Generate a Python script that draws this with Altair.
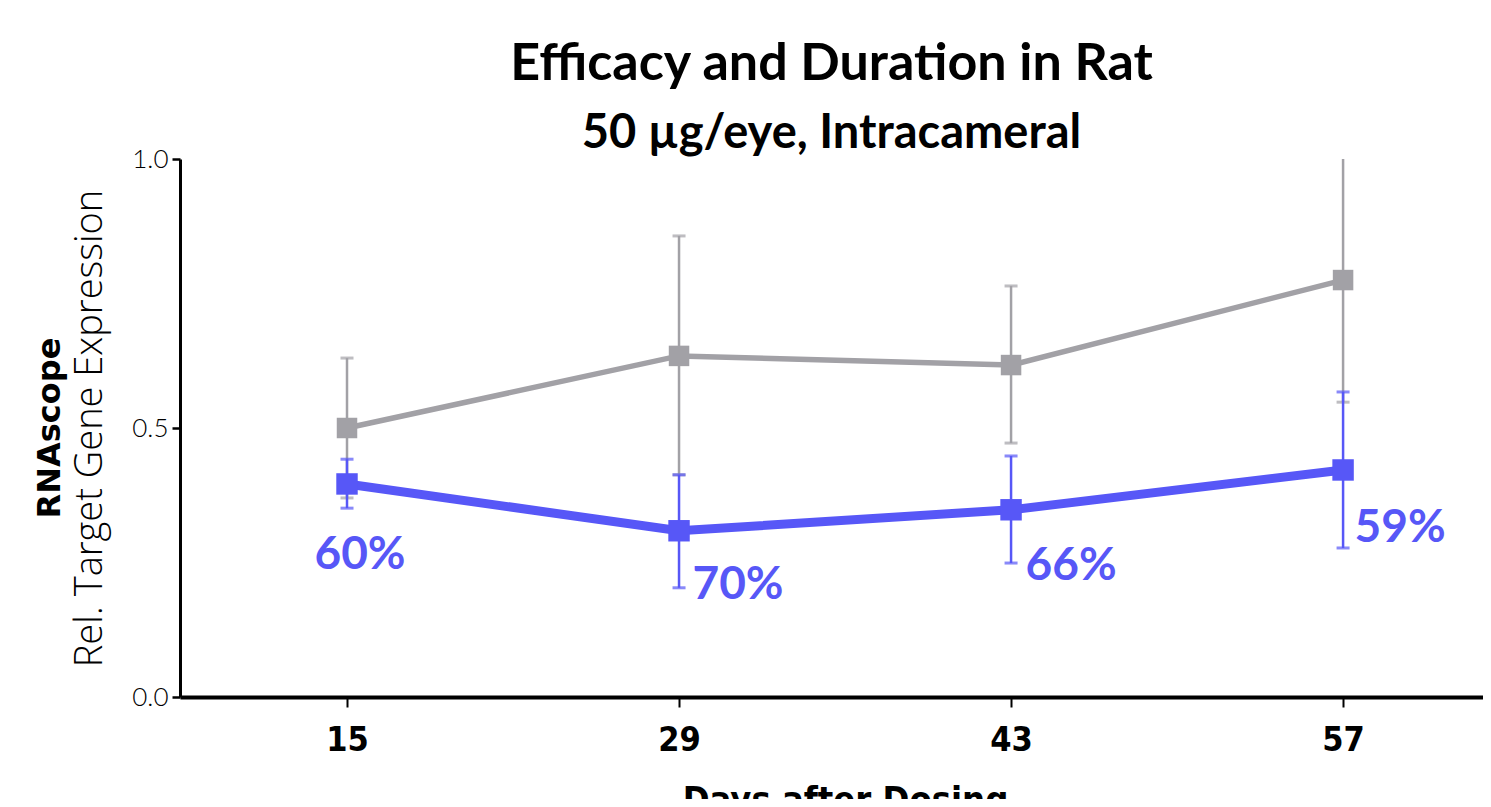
import altair as alt
import pandas as pd

days = [15, 29, 43, 57]
ctrl_mean = [0.500, 0.634, 0.617, 0.775]
ctrl_upper = [0.630, 0.857, 0.764, 1.030]
ctrl_lower = [0.370, 0.413, 0.472, 0.548]
trt_mean = [0.396, 0.309, 0.348, 0.422]
trt_upper = [0.442, 0.413, 0.448, 0.567]
trt_lower = [0.351, 0.203, 0.249, 0.277]
knockdown = ["60%", "70%", "66%", "59%"]

GRAY = "#A2A1A6"
BLUE = "#5757F7"
COND = "'DejaVu Sans Condensed', 'Liberation Sans Narrow', Lato"

ctrl = pd.DataFrame({"day": days, "mean": ctrl_mean, "lo": ctrl_lower, "hi": ctrl_upper})
trt = pd.DataFrame({"day": days, "mean": trt_mean, "lo": trt_lower, "hi": trt_upper})

x_enc = alt.X(
    "day:Q",
    scale=alt.Scale(domain=[7.958, 62.90], nice=False, zero=False),
    axis=alt.Axis(
        values=days, format="d", grid=False,
        domainColor="black", domainWidth=4, tickColor="black", tickWidth=2, tickSize=10,
        labelFont=COND, labelFontWeight="bold", labelFontSize=34,
        labelColor="black", labelPadding=16,
        title="Days after Dosing", titleFont=COND, titleFontWeight="bold",
        titleFontSize=36, titleColor="black", titleX=665, titleY=86, titleBaseline="top",
        titleAlign="center",
    ),
)


def y_enc(field):
    return alt.Y(
        f"{field}:Q",
        scale=alt.Scale(domain=[0, 1], nice=False),
        axis=alt.Axis(
            values=[0, 0.5, 1.0], format=".1f", grid=False,
            domainColor="black", domainWidth=3, tickColor="black", tickWidth=2.5, tickSize=8,
            labelFont="Lato", labelFontWeight=300, labelFontSize=26, labelColor="black",
            labelPadding=4,
            title="Rel. Target Gene Expression", titleFont="Open Sans", titleFontWeight=300,
            titleFontSize=38, titleColor="black", titleX=-90, titleY=269, titleAngle=270,
            titleAlign="center", titleBaseline="middle",
        ),
    )


def series(df, color, lw, sq):
    err = alt.Chart(df).mark_rule(color=color, strokeWidth=2.5, clip=True).encode(
        x=x_enc, y=y_enc("lo"), y2="hi:Q"
    )
    cap_hi = alt.Chart(df).mark_tick(color=color, orient="horizontal", size=13, thickness=3, clip=True).encode(
        x=x_enc, y=y_enc("hi")
    )
    cap_lo = alt.Chart(df).mark_tick(color=color, orient="horizontal", size=13, thickness=3, clip=True).encode(
        x=x_enc, y=y_enc("lo")
    )
    line = alt.Chart(df).mark_line(color=color, strokeWidth=lw).encode(x=x_enc, y=y_enc("mean"))
    pts = alt.Chart(df).mark_point(shape="square", filled=True, opacity=1, color=color, size=sq).encode(
        x=x_enc, y=y_enc("mean")
    )
    return [err, cap_hi, cap_lo, line, pts]


layers = series(ctrl, GRAY, 5.5, 420) + series(trt, BLUE, 9, 460)

offsets = [(13, 71), (59, 54), (60, 56), (57, 58)]
for i, (dx, dy) in enumerate(offsets):
    lab = pd.DataFrame({"day": [days[i]], "mean": [trt_mean[i]], "t": [knockdown[i]]})
    layers.append(
        alt.Chart(lab).mark_text(
            font="Lato", fontWeight="bold", fontSize=46, color=BLUE, dx=dx, dy=dy,
            align="center", baseline="middle",
        ).encode(x=x_enc, y=y_enc("mean"), text="t:N")
    )

rna = alt.Chart(pd.DataFrame({"t": ["RNAscope"]})).mark_text(
    font="DejaVu Sans", fontWeight="bold", fontSize=32, color="black", angle=270,
    align="center", baseline="middle",
).encode(text="t:N", x=alt.value(-130), y=alt.value(269))
layers.append(rna)

chart = alt.layer(*layers).properties(
    width=1303,
    height=538,
    autosize="none",
    padding={"left": 172, "top": 151, "right": 0, "bottom": 102},
    title=alt.TitleParams(
        text="Efficacy and Duration in Rat",
        subtitle="50 µg/eye, Intracameral",
        font="Lato", fontSize=52, fontWeight="bold", color="black",
        subtitleFont="Lato", subtitleFontSize=47, subtitleFontWeight="bold",
        subtitleColor="black", anchor="middle", offset=-12, subtitlePadding=20,
    ),
).configure_view(stroke=None)

chart.save("out.html", embed_options={"renderer": "svg", "actions": False})
